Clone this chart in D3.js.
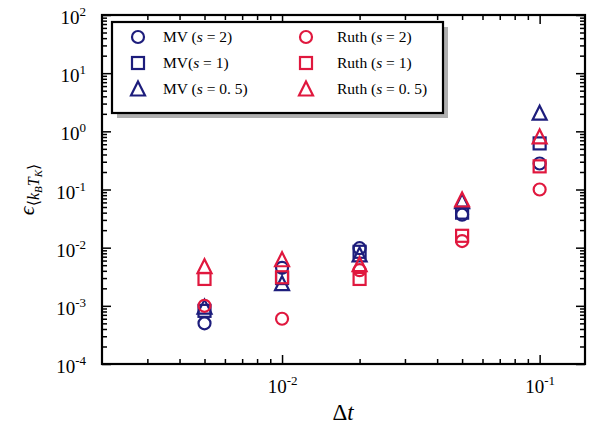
<!DOCTYPE html>
<html>
<head>
<meta charset="utf-8">
<script src="https://cdn.jsdelivr.net/npm/d3@7"></script>
<style>
  body { margin: 0; background: #fff; }
  text { font-family: "Liberation Serif", "DejaVu Serif", serif; }
</style>
</head>
<body>
<div id="container"></div>
<script>
// data
let dt = [0.005, 0.01, 0.02, 0.05, 0.1];
let mvS2 = [0.0005, 0.0045, 0.0098, 0.037, 0.28];
let mvS1 = [0.00082, 0.003, 0.0085, 0.04, 0.62];
let mvS05 = [0.00095, 0.0024, 0.0075, 0.062, 2.05];
let ruthS2 = [0.001, 0.0006, 0.0041, 0.013, 0.1];
let ruthS1 = [0.0029, 0.0031, 0.0029, 0.016, 0.25];
let ruthS05 = [0.0047, 0.0062, 0.0051, 0.066, 0.8];

let xTicks = [0.01, 0.1];
let yTicks = [1e-4, 1e-3, 1e-2, 1e-1, 1, 10, 100];

let seriesList = [
  {name: "MV", s: "2", vals: mvS2, shape: "circle", color: "#1d1d7c"},
  {name: "MV", s: "1", vals: mvS1, shape: "square", color: "#1d1d7c", noSpace: true},
  {name: "MV", s: "0. 5", vals: mvS05, shape: "triangle", color: "#1d1d7c"},
  {name: "Ruth", s: "2", vals: ruthS2, shape: "circle", color: "#e0183e"},
  {name: "Ruth", s: "1", vals: ruthS1, shape: "square", color: "#e0183e"},
  {name: "Ruth", s: "0. 5", vals: ruthS05, shape: "triangle", color: "#e0183e"}
];

let W = 603, H = 434;
let pLeft = 102, pRight = 585, pTop = 15, pBottom = 364;

let svg = d3.select("#container")
  .append("svg")
    .attr("width", W)
    .attr("height", H)
;

let x = d3.scaleLog().domain([0.002, 0.15]).range([pLeft, pRight]);
let y = d3.scaleLog().domain([1e-4, 100]).range([pBottom, pTop]);

// minor ticks
let xMinor = [];
for (let d = 0.001; d < 1; d *= 10) {
  for (let k = 2; k <= 9; k++) {
    let v = d * k;
    if (v > 0.002 && v < 0.15) xMinor.push(v);
  }
}
let yMinor = [];
for (let d = 1e-4; d < 100; d *= 10) {
  for (let k = 2; k <= 9; k++) yMinor.push(d * k);
}

function sup(sel) {
  sel.each(function(d) {
    let e = Math.round(Math.log10(d));
    let t = d3.select(this);
    t.text(null);
    t.append("tspan").text("10");
    t.append("tspan").attr("dy", -8).attr("font-size", 13).text(e);
  });
}

function styleAxis(g) {
  g.select(".domain").remove();
  g.selectAll("line").attr("stroke", "#000").attr("stroke-width", 1.5);
}

// bottom
svg.append("g").attr("transform", "translate(0," + pBottom + ")")
  .call(d3.axisBottom(x).tickValues(xTicks).tickSize(-9).tickPadding(16))
  .call(styleAxis)
  .call(g => g.selectAll("text").attr("font-size", 19).attr("fill", "#000").call(sup));
svg.append("g").attr("transform", "translate(0," + pBottom + ")")
  .call(d3.axisBottom(x).tickValues(xMinor).tickSize(-5).tickFormat(""))
  .call(styleAxis);
// top
svg.append("g").attr("transform", "translate(0," + pTop + ")")
  .call(d3.axisTop(x).tickValues(xTicks).tickSize(-9).tickFormat(""))
  .call(styleAxis);
svg.append("g").attr("transform", "translate(0," + pTop + ")")
  .call(d3.axisTop(x).tickValues(xMinor).tickSize(-5).tickFormat(""))
  .call(styleAxis);
// left
svg.append("g").attr("transform", "translate(" + pLeft + ",0)")
  .call(d3.axisLeft(y).tickValues(yTicks).tickSize(-9).tickPadding(16))
  .call(styleAxis)
  .call(g => g.selectAll("text").attr("font-size", 19).attr("fill", "#000").attr("dy", "0.45em").call(sup));
svg.append("g").attr("transform", "translate(" + pLeft + ",0)")
  .call(d3.axisLeft(y).tickValues(yMinor).tickSize(-5).tickFormat(""))
  .call(styleAxis);
// right
svg.append("g").attr("transform", "translate(" + pRight + ",0)")
  .call(d3.axisRight(y).tickValues(yTicks).tickSize(-9).tickFormat(""))
  .call(styleAxis);
svg.append("g").attr("transform", "translate(" + pRight + ",0)")
  .call(d3.axisRight(y).tickValues(yMinor).tickSize(-5).tickFormat(""))
  .call(styleAxis);

// frame
svg.append("rect")
  .attr("x", pLeft).attr("y", pTop)
  .attr("width", pRight - pLeft).attr("height", pBottom - pTop)
  .attr("fill", "none").attr("stroke", "#000").attr("stroke-width", 2.2);

// marker drawing
function marker(g, shape, color) {
  if (shape == "circle") {
    g.append("circle").attr("r", 6)
      .attr("fill", "none").attr("stroke", color).attr("stroke-width", 2.2);
  } else if (shape == "square") {
    g.append("rect").attr("x", -6).attr("y", -6).attr("width", 12).attr("height", 12)
      .attr("fill", "none").attr("stroke", color).attr("stroke-width", 2.2);
  } else {
    g.append("path").attr("d", "M0,-7.5 L7,6.5 L-7,6.5 Z")
      .attr("fill", "none").attr("stroke", color).attr("stroke-width", 2.2)
      .attr("stroke-linejoin", "miter");
  }
}

seriesList.forEach(function(s) {
  let pts = svg.selectAll(null).data(s.vals).enter()
    .append("g")
      .attr("transform", (d, i) => "translate(" + x(dt[i]) + "," + y(d) + ")");
  pts.each(function() { marker(d3.select(this), s.shape, s.color); });
});

// legend
let lg = svg.append("g");
lg.append("rect").attr("x", 117).attr("y", 27).attr("width", 331).attr("height", 91).attr("fill", "#b0b0b0");
lg.append("rect").attr("x", 112).attr("y", 22).attr("width", 331).attr("height", 91)
  .attr("fill", "#fff").attr("stroke", "#000").attr("stroke-width", 2.2);

seriesList.forEach(function(s, i) {
  let col = i < 3 ? 0 : 1;
  let row = i % 3;
  let mx = col == 0 ? 138 : 306;
  let my = 37 + row * 26;
  let g = lg.append("g").attr("transform", "translate(" + mx + "," + my + ")");
  marker(g, s.shape, s.color);
  let t = lg.append("text")
    .attr("x", col == 0 ? 163 : 337)
    .attr("y", my + 5)
    .attr("font-size", 15.5)
    .attr("fill", "#000");
  t.append("tspan").text(s.name + (s.noSpace ? "(" : " ("));
  t.append("tspan").attr("font-style", "italic").text("s");
  t.append("tspan").text(" = " + s.s + ")");
});

// axis labels
svg.append("text")
  .attr("x", 343)
  .attr("y", 420)
  .attr("text-anchor", "middle")
  .attr("font-size", 23)
  .call(t => {
    t.append("tspan").text("Δ");
    t.append("tspan").attr("font-style", "italic").text("t");
  });

let yl = svg.append("text")
  .attr("transform", "translate(34," + ((pTop + pBottom) / 2) + ") rotate(-90)")
  .attr("text-anchor", "middle")
  .attr("font-size", 22);
yl.append("tspan").attr("font-style", "italic").text("ϵ");
yl.append("tspan").attr("font-size", 16).attr("dy", 5).text("⟨");
yl.append("tspan").attr("font-size", 16).attr("font-style", "italic").text("k");
yl.append("tspan").attr("font-size", 11).attr("font-style", "italic").attr("dy", 3).text("B");
yl.append("tspan").attr("font-size", 16).attr("font-style", "italic").attr("dy", -3).text("T");
yl.append("tspan").attr("font-size", 11).attr("font-style", "italic").attr("dy", 3).text("K");
yl.append("tspan").attr("font-size", 16).attr("dy", -3).text("⟩");
</script>
</body>
</html>
